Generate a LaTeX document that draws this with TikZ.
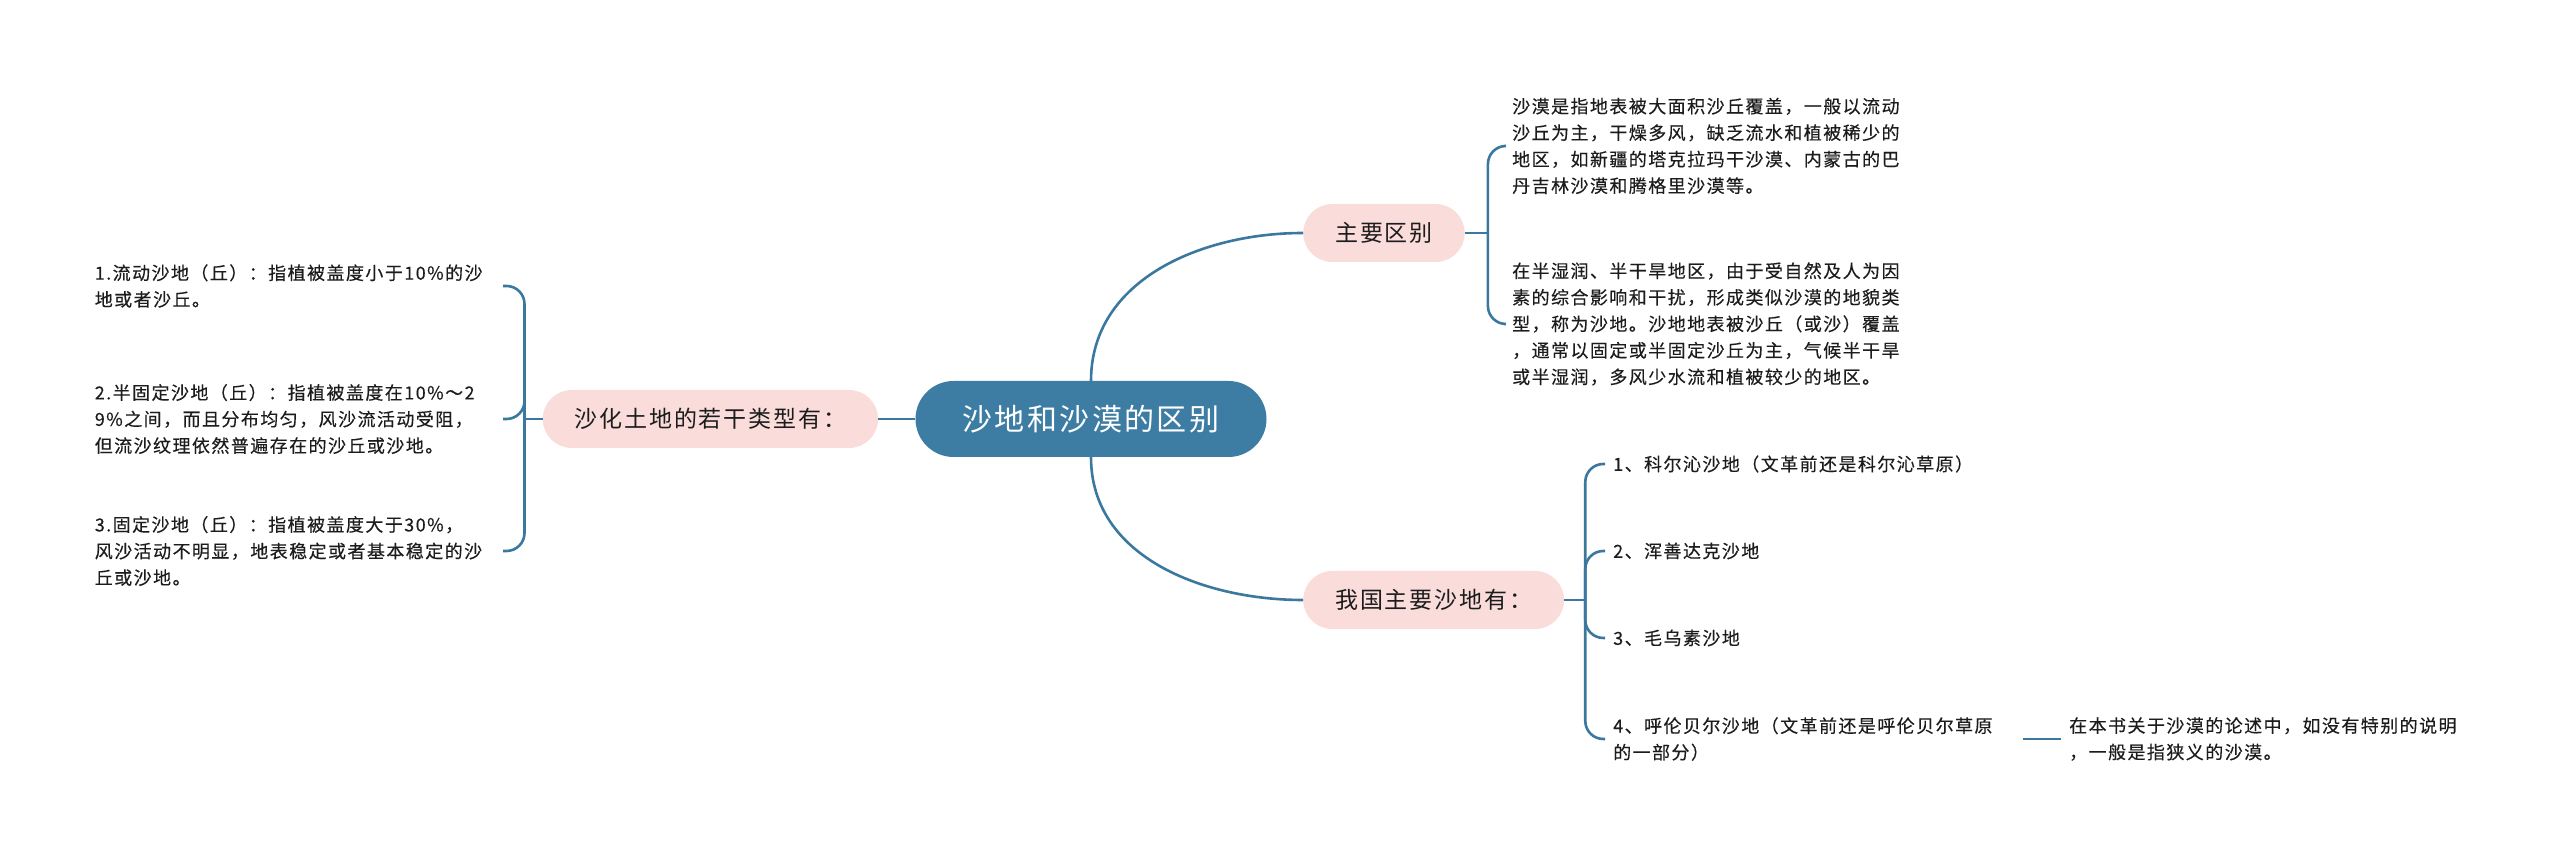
\documentclass[tikz,border=0pt]{standalone}
\usepackage{fontspec}
\newfontfamily\cjk[LetterSpace=8]{Noto Sans CJK SC}
\newfontfamily\cjkleaf[LetterSpace=8, FakeBold=0.3]{Noto Sans CJK SC}
\usetikzlibrary{positioning}
\definecolor{rootblue}{HTML}{3E7DA3}
\definecolor{branchpink}{HTML}{FADCDB}
\definecolor{linkblue}{HTML}{3B78A0}
\definecolor{inkgray}{HTML}{1C1C1C}

\begin{document}
\begin{tikzpicture}[x=1pt, y=1pt,
    rootbox/.style={fill=rootblue, text=white, rounded corners=38pt,
      minimum width=351pt, minimum height=76pt,
      font=\cjk\fontsize{30}{36}\selectfont},
    branch/.style={fill=branchpink, text=inkgray, rounded corners=29pt,
      minimum height=58pt, inner xsep=32pt,
      font=\cjk\fontsize{23}{28}\selectfont},
    leaf/.style={align=left, text=inkgray, inner xsep=8pt, inner ysep=0pt,
      font=\cjkleaf\fontsize{18}{26.5}\selectfont},
    conn/.style={draw=linkblue, line width=2.6pt},
    brace/.style={conn, rounded corners=18pt}
  ]
  \useasboundingbox (0,0) rectangle (2560,859);

  \node[rootbox] (root) at (1091,440) {沙地和沙漠的区别};
  \node[branch, left=37pt of root] (types) {沙化土地的若干类型有：};
  \node[branch, anchor=west] (diff) at (1303,626) {主要区别};
  \node[branch, anchor=west] (china) at (1303,259) {我国主要沙地有：};

  % left side
  \node[leaf, text width=400pt, anchor=east] (s1) at (503,573)
    {1.流动沙地（丘）：指植被盖度小于10\%的沙\\地或者沙丘。};
  \node[leaf, text width=400pt, anchor=east] (s2) at (503,440)
    {2.半固定沙地（丘）：指植被盖度在10\%～2\\9\%之间，而且分布均匀，风沙流活动受阻，\\但流沙纹理依然普遍存在的沙丘或沙地。};
  \node[leaf, text width=400pt, anchor=east] (s3) at (503,308)
    {3.固定沙地（丘）：指植被盖度大于30\%，\\风沙活动不明显，地表稳定或者基本稳定的沙\\丘或沙地。};

  % right side, top
  \node[leaf, anchor=west] (d1) at (1504,713)
    {沙漠是指地表被大面积沙丘覆盖，一般以流动\\沙丘为主，干燥多风，缺乏流水和植被稀少的\\地区，如新疆的塔克拉玛干沙漠、内蒙古的巴\\丹吉林沙漠和腾格里沙漠等。};
  \node[leaf, anchor=west] (d2) at (1504,535)
    {在半湿润、半干旱地区，由于受自然及人为因\\素的综合影响和干扰，形成类似沙漠的地貌类\\型，称为沙地。沙地地表被沙丘（或沙）覆盖\\，通常以固定或半固定沙丘为主，气候半干旱\\或半湿润，多风少水流和植被较少的地区。};

  % right side, bottom
  \node[leaf, anchor=west] (c1) at (1605,395) {1、科尔沁沙地（文革前还是科尔沁草原）};
  \node[leaf, anchor=west] (c2) at (1605,308) {2、浑善达克沙地};
  \node[leaf, anchor=west] (c3) at (1605,221) {3、毛乌素沙地};
  \node[leaf, anchor=west, text width=402pt] (c4) at (1605,120)
    {4、呼伦贝尔沙地（文革前还是呼伦贝尔草原\\的一部分）};
  \node[leaf, anchor=west] (note) at (2061,120)
    {在本书关于沙漠的论述中，如没有特别的说明\\，一般是指狭义的沙漠。};

  \draw[conn] (root.west) -- (types.east);
  \draw[conn] (root.north) to[out=90, in=180] (diff.west);
  \draw[conn] (root.south) to[out=-90, in=180] (china.west);

  \coordinate (typesb) at ([xshift=-18pt]types.west);
  \draw[conn] (types.west) -- (typesb);
  \foreach \s in {s1,s2,s3}
    \draw[brace] (typesb) |- (\s.east);

  \coordinate (diffb) at ([xshift=23pt]diff.east);
  \draw[conn] (diff.east) -- (diffb);
  \foreach \d in {d1,d2}
    \draw[brace] (diffb) |- (\d.west);

  \coordinate (chinab) at ([xshift=21pt]china.east);
  \draw[conn] (china.east) -- (chinab);
  \foreach \c in {c1,c2,c3,c4}
    \draw[brace] (chinab) |- (\c.west);

  \draw[conn] (c4.east) -- (note.west);
\end{tikzpicture}
\end{document}
